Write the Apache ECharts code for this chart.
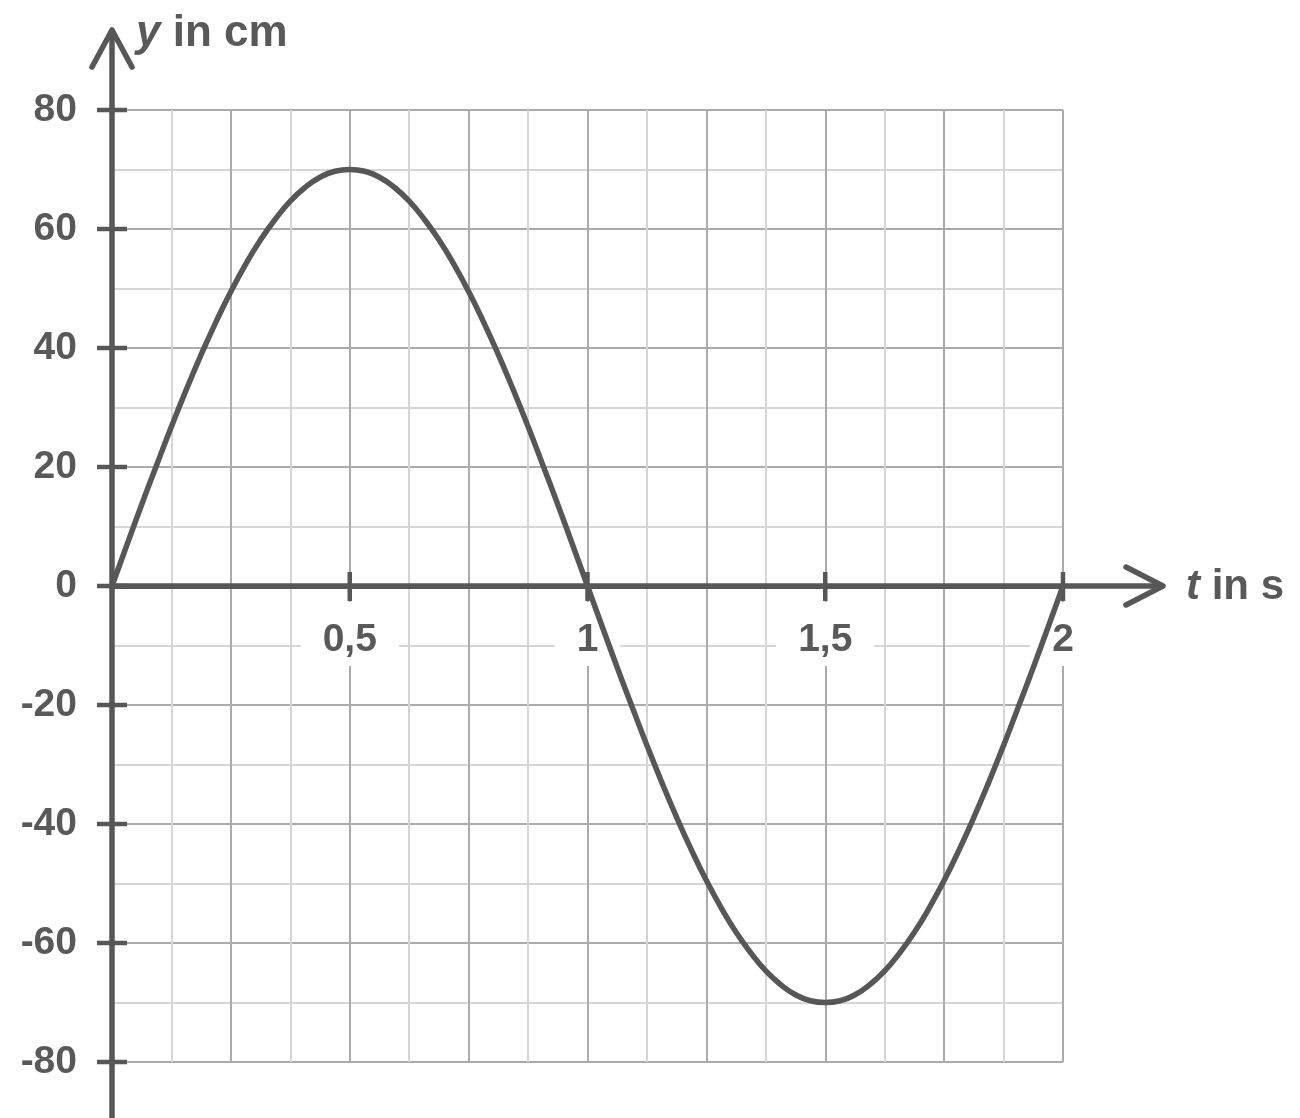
<!DOCTYPE html>
<html><head><meta charset="utf-8">
<script src="https://cdn.jsdelivr.net/npm/echarts@6/dist/echarts.min.js"></script>
<style>html,body{margin:0;padding:0;background:#fff}#c{width:1300px;height:1118px}</style>
</head><body><div id="c"></div>
<script>
const tValues = [0, 0.03125, 0.0625, 0.09375, 0.125, 0.15625, 0.1875, 0.21875, 0.25, 0.28125, 0.3125, 0.34375, 0.375, 0.40625, 0.4375, 0.46875,
  0.5, 0.53125, 0.5625, 0.59375, 0.625, 0.65625, 0.6875, 0.71875, 0.75, 0.78125, 0.8125, 0.84375, 0.875, 0.90625, 0.9375, 0.96875,
  1, 1.03125, 1.0625, 1.09375, 1.125, 1.15625, 1.1875, 1.21875, 1.25, 1.28125, 1.3125, 1.34375, 1.375, 1.40625, 1.4375, 1.46875,
  1.5, 1.53125, 1.5625, 1.59375, 1.625, 1.65625, 1.6875, 1.71875, 1.75, 1.78125, 1.8125, 1.84375, 1.875, 1.90625, 1.9375, 1.96875, 2];
const yValues = [0, 6.9, 13.7, 20.3, 26.8, 33, 38.9, 44.4, 49.5, 54.1, 58.2, 61.7, 64.7, 67, 68.7, 69.7,
  70, 69.7, 68.7, 67, 64.7, 61.7, 58.2, 54.1, 49.5, 44.4, 38.9, 33, 26.8, 20.3, 13.7, 6.9,
  0, -6.9, -13.7, -20.3, -26.8, -33, -38.9, -44.4, -49.5, -54.1, -58.2, -61.7, -64.7, -67, -68.7, -69.7,
  -70, -69.7, -68.7, -67, -64.7, -61.7, -58.2, -54.1, -49.5, -44.4, -38.9, -33, -26.8, -20.3, -13.7, -6.9, 0];
const xTickValues = [0.5, 1, 1.5, 2];
const yTickValues = [-80, -60, -40, -20, 0, 20, 40, 60, 80];
const xNameParts = ['t', ' in s'];
const yNameParts = ['y', ' in cm'];

(function () {
const ink = '#595959';
const lineInk = '#575757';
const fontFam = '"Liberation Sans", Arial, Helvetica, sans-serif';
const chart = echarts.init(document.getElementById('c'));

chart.setOption({
  animation: false,
  backgroundColor: '#fff',
  grid: { left: 112, right: 237, top: 110, bottom: 56, containLabel: false, outerBoundsMode: 'none' },
  xAxis: [
    { type: 'value', min: 0, max: 2, interval: 0.25,
      axisLine: { show: false, onZero: false }, axisTick: { show: false }, axisLabel: { show: false },
      splitLine: { show: true, lineStyle: { color: '#ababab', width: 2 } },
      minorTick: { show: false, splitNumber: 2 },
      minorSplitLine: { show: true, lineStyle: { color: '#d6d6d6', width: 2 } } },
    { type: 'value', min: 0, max: 2, interval: 0.5, position: 'bottom', z: 3, offset: 0,
      axisLine: { show: true, onZero: false, lineStyle: { color: lineInk, width: 5 } },
      axisTick: { show: false },
      splitLine: { show: false },
      axisLabel: { showMinLabel: false, margin: 16, color: ink, fontSize: 39, fontWeight: 'bold', fontFamily: fontFam,
        backgroundColor: '#fff', padding: [19, 22, 6, 22],
        formatter: v => String(v).replace('.', ',') } }
  ],
  yAxis: [
    { type: 'value', min: -80, max: 80, interval: 20,
      axisLine: { show: false, onZero: false }, axisTick: { show: false },
      axisLabel: { margin: 35, color: ink, fontSize: 39, fontWeight: 'bold', fontFamily: fontFam },
      splitLine: { show: true, lineStyle: { color: '#ababab', width: 2 } },
      minorTick: { show: false, splitNumber: 2 },
      minorSplitLine: { show: true, lineStyle: { color: '#d6d6d6', width: 2 } } }
  ],
  series: [{
    type: 'line', xAxisIndex: 0, yAxisIndex: 0, z: 5,
    data: tValues.map((t, i) => [t, yValues[i]]),
    smooth: true, showSymbol: false, symbol: 'none',
    lineStyle: { color: lineInk, width: 5.5, cap: 'round', join: 'round' }
  }]
});

const px = (t, y) => chart.convertToPixel({ xAxisIndex: 0, yAxisIndex: 0 }, [t, y]);
const O = px(0, 0);
const pTop = px(0, 80);
const pBottom = px(0, -80);
const pRight = px(2, 0);
const H = chart.getHeight();
const xTip = pRight[0] + 100;
const yTip = pTop[1] - 80;
const axStyle = { stroke: lineInk, lineWidth: 5.5, lineCap: 'round', lineJoin: 'round', fill: null };
const tickStyle = { stroke: lineInk, lineWidth: 4.5, lineCap: 'butt' };
const g = [];
g.push({ type: 'line', z: 4, shape: { x1: O[0], y1: H, x2: O[0], y2: yTip + 2 }, style: axStyle });
g.push({ type: 'line', z: 4, shape: { x1: O[0], y1: O[1], x2: xTip - 2, y2: O[1] }, style: axStyle });
g.push({ type: 'polyline', z: 4, shape: { points: [[O[0] - 20, yTip + 37], [O[0], yTip], [O[0] + 20, yTip + 37]] }, style: axStyle });
g.push({ type: 'polyline', z: 4, shape: { points: [[xTip - 37, O[1] - 19], [xTip, O[1]], [xTip - 37, O[1] + 19]] }, style: axStyle });
yTickValues.forEach(v => {
  const p = px(0, v);
  g.push({ type: 'line', z: 4, shape: { x1: p[0] - 15, y1: p[1], x2: p[0] + 15, y2: p[1] }, style: tickStyle });
});
xTickValues.forEach(v => {
  const p = px(v, 0);
  g.push({ type: 'line', z: 4, shape: { x1: p[0], y1: p[1] - 14, x2: p[0], y2: p[1] + 15 }, style: tickStyle });
});
const richFor = (size) => ({
  i: { fontStyle: 'italic', fontWeight: 'bold', fontSize: size, fontFamily: fontFam, fill: ink },
  n: { fontWeight: 'bold', fontSize: size, fontFamily: fontFam, fill: ink }
});
g.push({ type: 'text', z: 6, x: O[0] + 24, y: pTop[1] - 76,
  style: { text: '{i|' + yNameParts[0] + '}{n|' + yNameParts[1] + '}', rich: richFor(44), verticalAlign: 'middle', align: 'left',
    fontSize: 44, fontWeight: 'bold', fontFamily: fontFam, fill: ink } });
g.push({ type: 'text', z: 6, x: pRight[0] + 123, y: O[1] + 1,
  style: { text: '{i|' + xNameParts[0] + '}{n|' + xNameParts[1] + '}', rich: richFor(42), verticalAlign: 'middle', align: 'left',
    fontSize: 42, fontWeight: 'bold', fontFamily: fontFam, fill: ink } });
chart.setOption({
  xAxis: [{}, { offset: O[1] - pBottom[1] }],
  graphic: g
});
})();
</script>
</body></html>
